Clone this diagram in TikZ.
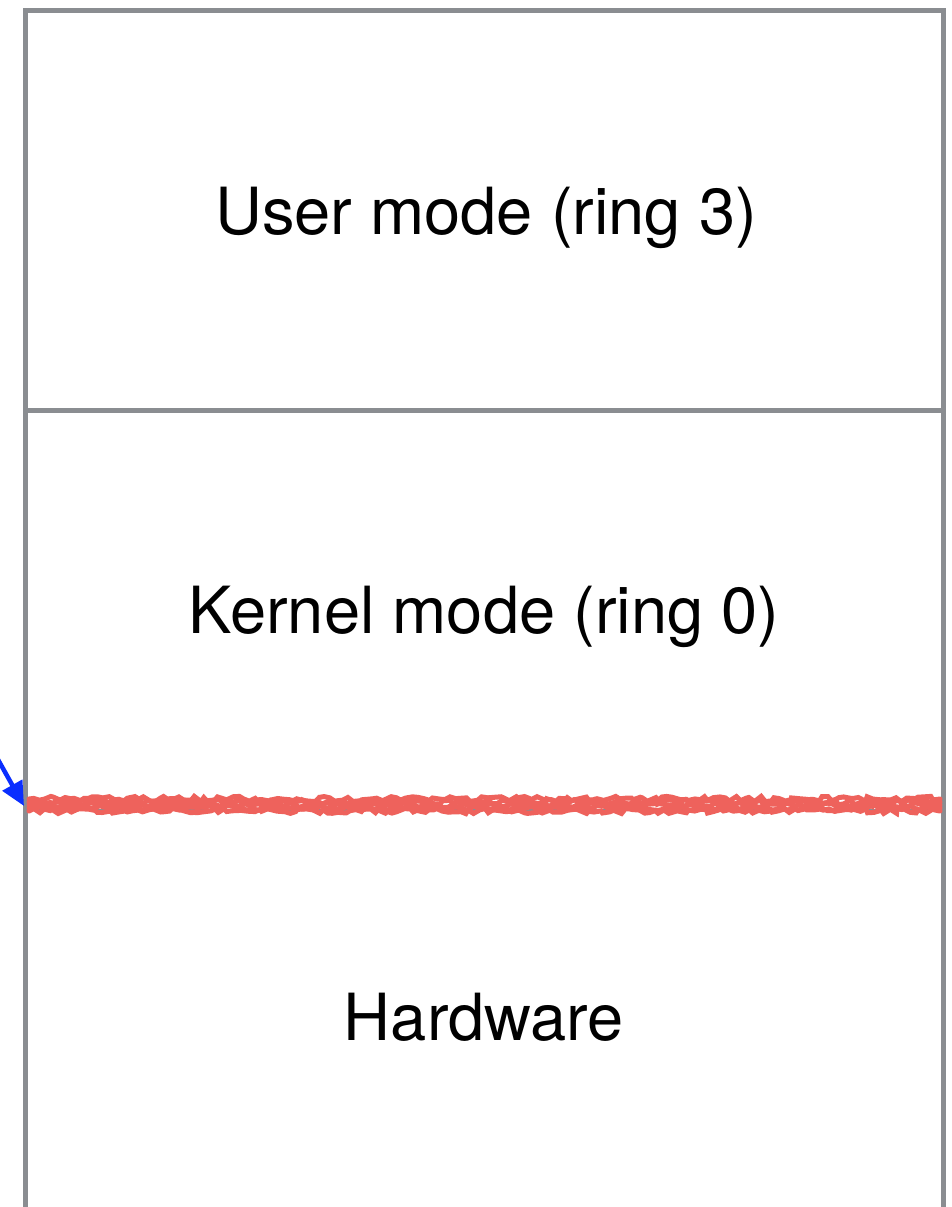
\documentclass[tikz,border=0pt]{standalone}
\usepackage{fontspec}
\setmainfont{TeX Gyre Heros}
\usetikzlibrary{arrows.meta,decorations.pathmorphing}
\definecolor{frame}{HTML}{8A8D91}
\definecolor{cut}{HTML}{EE625C}
\definecolor{arrowblue}{HTML}{0A2EFF}
\tikzset{
  x=1pt, y=-1pt,
  wall/.style={draw=frame, line width=5pt},
  layer/.style={font=\fontsize{65}{78}\selectfont, text=black, anchor=center},
  scribble/.style={draw=cut, line width=5pt, line cap=round,
    decorate, decoration={random steps, segment length=5pt, amplitude=2.6pt}},
}
\begin{document}
\begin{tikzpicture}
\useasboundingbox (0,0) rectangle (952,1207);
\fill[white] (0,0) rectangle (952,1207);

% frame of the stack
\coordinate (tl) at (25.5,11);
\coordinate (tr) at (943.5,11);
\coordinate (bl) at (25.5,1210);
\coordinate (br) at (943.5,1210);
\draw[wall] (bl) -- (tl) -- (tr) -- (br);
\coordinate (ml) at (25.5,410);
\coordinate (mr) at (943.5,410);
\draw[wall] (ml) -- (mr);

% boundary between kernel and hardware
\coordinate (hl) at (25.5,810);
\coordinate (hr) at (943.5,810);
\draw[draw=frame, line width=2pt] (hl) -- (hr);
\pgfmathsetseed{7}
\foreach \dy in {-7,-4,-1,2,5} {
  \draw[scribble] ([yshift=-\dy pt]29,806) -- ([yshift=-\dy pt]940,806);
}

% layer labels
\node[layer] (user) at (486,218) {User mode (ring 3)};
\node[layer] (kernel) at (484,617) {Kernel mode (ring 0)};
\node[layer] (hw) at (484,1017) {Hardware};

% incoming arrow
\coordinate (src) at (-4,756);
\coordinate (hit) at (24,806);
\draw[arrowblue, line width=4.5pt, -{Triangle[length=24pt,width=22pt]}] (src) -- (hit);
\end{tikzpicture}
\end{document}
